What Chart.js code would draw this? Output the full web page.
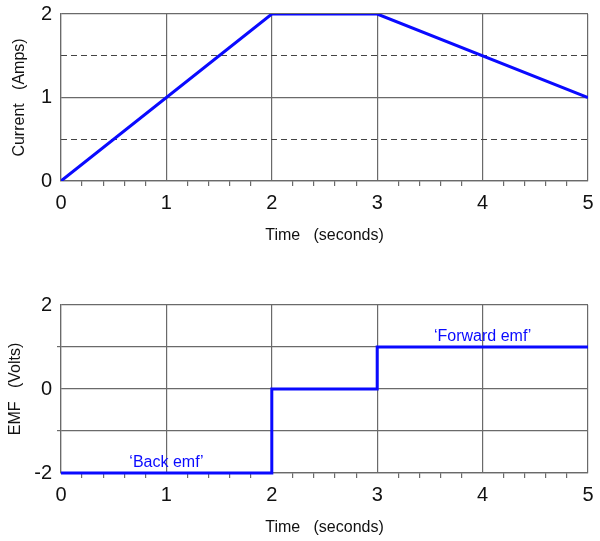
<!DOCTYPE html>
<html>
<head>
<meta charset="utf-8">
<script src="https://cdn.jsdelivr.net/npm/chart.js@4/dist/chart.umd.min.js"></script>
<style>
    html, body { margin: 0; padding: 0; background: #fff; }
    #wrap { position: relative; width: 600px; height: 541px; }
    #currentChart { position: absolute; left: 0; top: 0; }
    #emfChart { position: absolute; left: 0; top: 291px; }
</style>
</head>
<body>
<div id="wrap">
    <canvas id="currentChart" width="600" height="249"></canvas>
    <canvas id="emfChart" width="600" height="250"></canvas>
</div>
<script>
'use strict';

// Current vs time
const currentTime = [0, 2, 3, 5];
const currentAmps = [0, 2, 2, 1];
const dashedAmps = [0.5, 1.5];

// EMF vs time (step shape)
const emfTime = [0, 2, 2, 3, 3, 5];
const emfVolts = [-2, -2, 0, 0, 1, 1];

// Notes on the EMF chart
const noteText = ['\u2018Back emf\u2019', '\u2018Forward emf\u2019'];
const noteTime = [1, 4];
const noteVolts = [-2, 1];

const GRID = '#6a6a6a';
const BLUE = '#0a0aff';
const FONT = '"Liberation Sans", Arial, sans-serif';

Chart.defaults.font.family = FONT;
Chart.defaults.color = '#111';

const isInt = v => Math.abs(v - Math.round(v)) < 1e-6;

function toPoints(xs, ys) {
    return xs.map((x, i) => ({ x: x, y: ys[i] }));
}

// fixed-width y axis, no extra room asked for the end labels
function fitY(width) {
    return scale => {
        scale.width = width;
        scale.paddingTop = 0;
        scale.paddingBottom = 0;
    };
}

function timeAxis(height) {
    return {
        type: 'linear',
        min: 0,
        max: 5,
        afterFit: scale => {
            scale.height = height;
            scale.paddingLeft = 0;
            scale.paddingRight = 0;
        },
        afterBuildTicks: scale => {
            const ticks = [];
            for (let i = 0; i <= 25; i++) ticks.push({ value: i / 5 });
            scale.ticks = ticks;
        },
        ticks: {
            autoSkip: false,
            maxRotation: 0,
            padding: 5,
            font: { size: 20 },
            callback: v => isInt(v) ? String(Math.round(v)) : ''
        },
        grid: {
            color: ctx => isInt(ctx.tick.value) ? GRID : 'transparent',
            tickColor: ctx => isInt(ctx.tick.value) ? 'transparent' : GRID,
            tickLength: 5,
            lineWidth: 1.2
        },
        border: { color: GRID, width: 1.2 },
        title: {
            display: true,
            text: 'Time   (seconds)',
            font: { size: 16 },
            padding: { top: 0, bottom: 4 }
        }
    };
}

const notesPlugin = {
    id: 'notes',
    afterDatasetsDraw(chart) {
        const { ctx, scales } = chart;
        ctx.save();
        ctx.fillStyle = BLUE;
        ctx.font = '16px ' + FONT;
        ctx.textAlign = 'center';
        ctx.textBaseline = 'bottom';
        noteText.forEach((t, i) => {
            const px = scales.x.getPixelForValue(noteTime[i]);
            const py = scales.y.getPixelForValue(noteVolts[i]);
            ctx.fillText(t, px, py - 2);
        });
        ctx.restore();
    }
};

new Chart(document.getElementById('currentChart'), {
    type: 'line',
    data: {
        datasets: [{
            data: toPoints(currentTime, currentAmps),
            borderColor: BLUE,
            borderWidth: 3,
            pointRadius: 0,
            tension: 0
        }]
    },
    options: {
        responsive: false,
        animation: false,
        layout: { padding: { top: 14, right: 12, left: 0, bottom: 0 } },
        plugins: { legend: { display: false }, tooltip: { enabled: false } },
        scales: {
            x: timeAxis(68),
            y: {
                min: 0,
                max: 2,
                afterFit: fitY(61),
                ticks: { stepSize: 1, padding: 9, font: { size: 20 } },
                grid: { color: GRID, drawTicks: false, lineWidth: 1.2 },
                border: { color: GRID, width: 1.2 },
                title: {
                    display: true,
                    text: 'Current   (Amps)',
                    font: { size: 16 },
                    padding: { top: 10, bottom: 0 }
                }
            },
            yDash: {
                position: 'left',
                min: 0,
                max: 2,
                afterFit: fitY(0),
                afterBuildTicks: scale => {
                    scale.ticks = dashedAmps.map(v => ({ value: v }));
                },
                ticks: { display: false },
                grid: { color: '#444', drawTicks: true, tickLength: 3, tickColor: '#444', lineWidth: 1 },
                border: { display: false, dash: [6, 4] }
            }
        }
    }
});

new Chart(document.getElementById('emfChart'), {
    type: 'line',
    data: {
        datasets: [{
            data: toPoints(emfTime, emfVolts),
            borderColor: BLUE,
            borderWidth: 3,
            pointRadius: 0,
            tension: 0,
            clip: 4
        }]
    },
    options: {
        responsive: false,
        animation: false,
        layout: { padding: { top: 14, right: 12, left: 0, bottom: 0 } },
        plugins: { legend: { display: false }, tooltip: { enabled: false } },
        scales: {
            x: timeAxis(68),
            y: {
                min: -2,
                max: 2,
                afterFit: fitY(61),
                ticks: {
                    stepSize: 1,
                    padding: 5,
                    font: { size: 20 },
                    callback: v => (Math.round(v) % 2 === 0 ? String(v) : '')
                },
                grid: {
                    color: GRID,
                    lineWidth: 1.2,
                    tickLength: 4,
                    tickColor: ctx => (Math.round(ctx.tick.value) % 2 === 0 ? 'transparent' : GRID)
                },
                border: { color: GRID, width: 1.2 },
                title: {
                    display: true,
                    text: 'EMF   (Volts)',
                    font: { size: 16 },
                    padding: { top: 6, bottom: 0 }
                }
            }
        }
    },
    plugins: [notesPlugin]
});
</script>
</body>
</html>
